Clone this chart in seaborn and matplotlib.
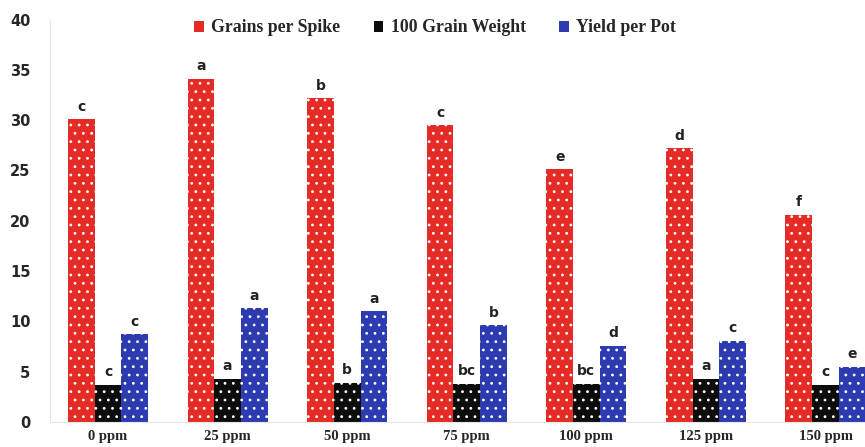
import pandas as pd
import seaborn as sns
import matplotlib.pyplot as plt
from matplotlib.patches import Patch

# values
doses = ['0 ppm', '25 ppm', '50 ppm', '75 ppm', '100 ppm', '125 ppm', '150 ppm']
grains_per_spike = [30.1, 34.1, 32.2, 29.5, 25.1, 27.2, 20.6]
grain_weight_100 = [3.7, 4.3, 3.9, 3.8, 3.8, 4.3, 3.7]
yield_per_pot = [8.7, 11.3, 11.0, 9.6, 7.6, 8.1, 5.5]

grains_letters = ['c', 'a', 'b', 'c', 'e', 'd', 'f']
weight_letters = ['c', 'a', 'b', 'bc', 'bc', 'a', 'c']
yield_letters = ['c', 'a', 'a', 'b', 'd', 'c', 'e']

traits = ['Grains per Spike', '100 Grain Weight', 'Yield per Pot']
colors = ['#e52b25', '#0d0d0d', '#2d3bb0']

df = pd.DataFrame({
    'dose': doses * 3,
    'trait': [t for t in traits for _ in doses],
    'value': grains_per_spike + grain_weight_100 + yield_per_pot,
    'letter': grains_letters + weight_letters + yield_letters,
})

sns.set_style('white')
plt.rcParams['hatch.linewidth'] = 0.8

fig = plt.figure(figsize=(8.65, 4.47), dpi=100)
ax = fig.add_axes([50 / 865, 25 / 447, 1 - 50 / 865, (422 - 19.6) / 447])

sns.barplot(data=df, x='dose', y='value', hue='trait', palette=colors,
            saturation=1, width=0.67, gap=0, errorbar=None, legend=False, ax=ax)

# white dotted fill like the original
for bar in ax.patches:
    bar.set_edgecolor('white')
    bar.set_linewidth(0)
    bar.set_hatch('..')

# significance letters above each bar
for container, trait in zip(ax.containers, traits):
    letters = df.loc[df['trait'] == trait, 'letter'].tolist()
    ax.bar_label(container, labels=letters, padding=4, fontsize=10,
                 fontweight='bold', family='DejaVu Sans', color='#222222')

ax.set_ylim(0, 40)
ax.set_xlim(-0.485, 6.33)
ax.set_yticks(range(0, 41, 5))
ax.set_xlabel('')
ax.set_ylabel('')

for s in ['top', 'right']:
    ax.spines[s].set_visible(False)
for s in ['left', 'bottom']:
    ax.spines[s].set_color('#e6e6e6')
    ax.spines[s].set_linewidth(0.8)

ax.tick_params(axis='y', length=4, color='#dddddd', pad=10, labelsize=10.5)
ax.tick_params(axis='x', length=0, pad=6)
for lab in ax.get_yticklabels():
    lab.set_fontweight('bold')
    lab.set_family('DejaVu Sans')
for lab in ax.get_xticklabels():
    lab.set_fontweight('bold')
    lab.set_family('Liberation Serif')
    lab.set_fontsize(10.5)

handles = [Patch(facecolor=c, edgecolor='white', linewidth=0) for c in colors]
fig.legend(handles, traits, loc='center', bbox_to_anchor=(435 / 865, 1 - 28 / 447),
           ncol=3, frameon=False, handlelength=0.55, handleheight=0.55,
           handletextpad=0.4, columnspacing=1.9,
           prop={'family': 'Liberation Serif', 'weight': 'bold', 'size': 12.8})

fig.savefig('out.png', dpi=100)
